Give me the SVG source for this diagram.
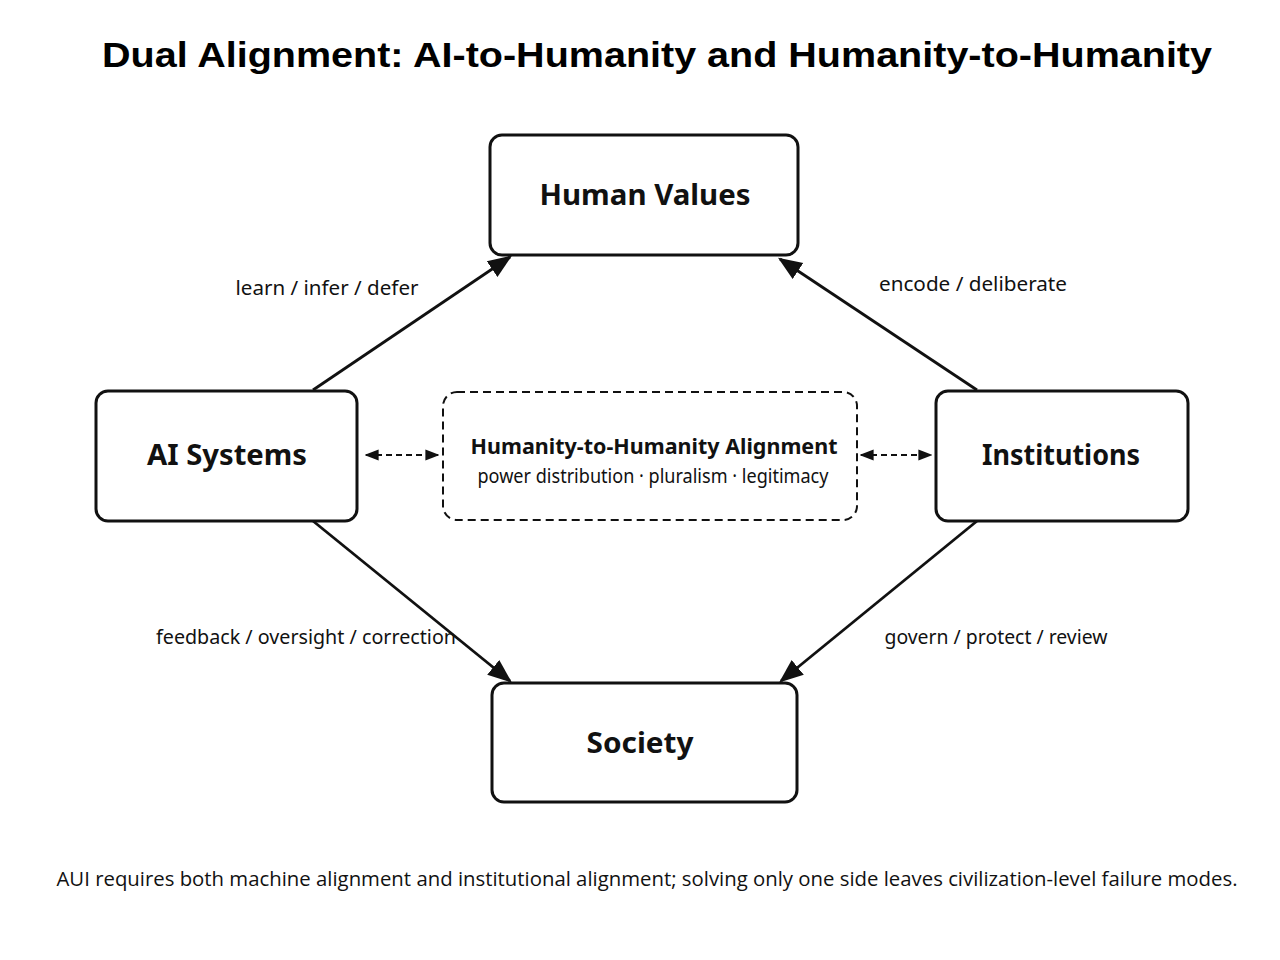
<svg xmlns="http://www.w3.org/2000/svg" width="1280" height="960" viewBox="0 0 1280 960">
<defs>
<style>
.box{fill:#fff;stroke:#111;stroke-width:3}
.dbox{fill:#fff;stroke:#111;stroke-width:2;stroke-dasharray:8 5}
.title{font-family:"Liberation Sans",Arial,sans-serif;font-weight:bold;font-size:35px;fill:#000}
.nl{font-family:"Noto Sans","Open Sans",sans-serif;font-weight:bold;font-size:29px;fill:#111;text-anchor:middle}
.el{font-family:"Noto Sans","Open Sans",sans-serif;font-size:20px;fill:#111}
.conn{stroke:#111;stroke-width:2.8;fill:none}
.dconn{stroke:#111;stroke-width:2;fill:none;stroke-dasharray:6 4}
</style>
<marker id="ah" viewBox="0 0 10 10" refX="9" refY="5" markerWidth="14" markerHeight="14" markerUnits="userSpaceOnUse" orient="auto-start-reverse">
<path d="M0,1 L10,5 L0,9 z" fill="#111"/>
</marker>
<marker id="ahb" viewBox="0 0 10 10" refX="9" refY="5" markerWidth="24" markerHeight="24" markerUnits="userSpaceOnUse" orient="auto-start-reverse">
<path d="M0,1 L10,5 L0,9 z" fill="#111"/>
</marker>
</defs>
<rect width="1280" height="960" fill="#fff"/>
<text class="title" x="657" y="67" text-anchor="middle" textLength="1110" lengthAdjust="spacingAndGlyphs">Dual Alignment: AI-to-Humanity and Humanity-to-Humanity</text>

<g id="connectors">
<line class="conn" x1="313" y1="390" x2="510" y2="257" marker-end="url(#ahb)"/>
<line class="conn" x1="977" y1="390" x2="780" y2="259" marker-end="url(#ahb)"/>
<line class="conn" x1="313" y1="521" x2="510" y2="681" marker-end="url(#ahb)"/>
<line class="conn" x1="977" y1="521" x2="781" y2="681" marker-end="url(#ahb)"/>
<line class="dconn" x1="366" y1="455" x2="438" y2="455" marker-start="url(#ah)" marker-end="url(#ah)"/>
<line class="dconn" x1="861" y1="455" x2="931" y2="455" marker-start="url(#ah)" marker-end="url(#ah)"/>
<text class="el" x="327" y="295" text-anchor="middle" textLength="183" lengthAdjust="spacingAndGlyphs">learn / infer / defer</text>
<text class="el" x="973" y="291" text-anchor="middle" textLength="188" lengthAdjust="spacingAndGlyphs">encode / deliberate</text>
<text class="el" x="306" y="644" text-anchor="middle" textLength="300" lengthAdjust="spacingAndGlyphs">feedback / oversight / correction</text>
<text class="el" x="996" y="644" text-anchor="middle" textLength="223" lengthAdjust="spacingAndGlyphs">govern / protect / review</text>
</g>

<g id="human-values">
<rect class="box" x="490" y="135" width="308" height="120" rx="12"/>
<text class="nl" x="645" y="205" textLength="211" lengthAdjust="spacingAndGlyphs">Human Values</text>
</g>
<g id="ai-systems">
<rect class="box" x="96" y="391" width="261" height="130" rx="12"/>
<text class="nl" x="227" y="465" textLength="160" lengthAdjust="spacingAndGlyphs">AI Systems</text>
</g>
<g id="institutions">
<rect class="box" x="936" y="391" width="252" height="130" rx="12"/>
<text class="nl" x="1061" y="465" textLength="158" lengthAdjust="spacingAndGlyphs">Institutions</text>
</g>
<g id="society">
<rect class="box" x="492" y="683" width="305" height="119" rx="12"/>
<text class="nl" x="640" y="753" textLength="107" lengthAdjust="spacingAndGlyphs">Society</text>
</g>
<g id="h2h">
<rect class="dbox" x="443" y="392" width="414" height="128" rx="14"/>
<text x="654" y="454" text-anchor="middle" font-family="Noto Sans, Open Sans, sans-serif" font-weight="bold" font-size="21" fill="#111" textLength="367" lengthAdjust="spacingAndGlyphs">Humanity-to-Humanity Alignment</text>
<text x="653" y="483" text-anchor="middle" font-family="Noto Sans, Open Sans, sans-serif" font-size="19" fill="#111" textLength="351" lengthAdjust="spacingAndGlyphs">power distribution · pluralism · legitimacy</text>
</g>

<text x="647" y="886" text-anchor="middle" font-family="Open Sans, Noto Sans, sans-serif" font-size="20" fill="#111" textLength="1181" lengthAdjust="spacingAndGlyphs">AUI requires both machine alignment and institutional alignment; solving only one side leaves civilization-level failure modes.</text>
</svg>
